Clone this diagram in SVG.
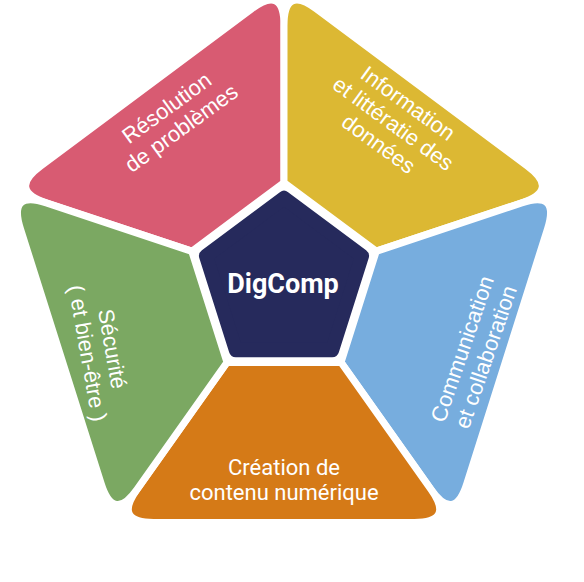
<svg xmlns="http://www.w3.org/2000/svg" width="584" height="582" viewBox="0 0 584 582">
<style>
.seg{stroke:#ffffff;stroke-width:7;stroke-linejoin:round}
.lbl{font-family:"Liberation Sans",Arial,sans-serif;font-size:22px;fill:#ffffff;text-anchor:middle}
.lbl2{font-family:Roboto,"Liberation Sans",sans-serif;font-size:22px;fill:#ffffff;text-anchor:middle}
.core{font-family:Roboto,"Liberation Sans",sans-serif;font-weight:bold;font-size:27px;fill:#ffffff;text-anchor:middle}
</style>
<defs>
<path id="seg" d="M0,-97 L0,-250 Q0,-290 -32.36,-266.49 L-243.45,-113.13 Q-275.81,-89.62 -237.77,-77.26 L-92.25,-29.97 Z"/>
</defs>
<rect width="584" height="582" fill="#ffffff"/>
<g id="resolution">
<use href="#seg" class="seg" fill="#D85B72" transform="translate(284 282) scale(1 1.025)"/>
<text class="lbl" transform="translate(174 118) rotate(-36)"><tspan x="0" y="-5">Résolution</tspan><tspan x="0" y="20">de problèmes</tspan></text>
</g>
<g id="information">
<use href="#seg" class="seg" fill="#DCB833" transform="translate(284 282) scale(1 1.025) rotate(72)"/>
<text class="lbl" transform="translate(393 124) rotate(36)"><tspan x="0" y="-18">Information</tspan><tspan x="0" y="7">et littératie des</tspan><tspan x="0" y="32">données</tspan></text>
</g>
<g id="communication">
<use href="#seg" class="seg" fill="#77ADDE" transform="translate(284 282) scale(1 1.025) rotate(144)"/>
<text class="lbl" transform="translate(474 353) rotate(-71)"><tspan x="0" y="-5">Communication</tspan><tspan x="0" y="20">et collaboration</tspan></text>
</g>
<g id="creation">
<use href="#seg" class="seg" fill="#D57A17" transform="translate(284 282) scale(1 1.025) rotate(216)"/>
<text class="lbl2"><tspan x="284" y="475">Création de</tspan><tspan x="284" y="500">contenu numérique</tspan></text>
</g>
<g id="securite">
<use href="#seg" class="seg" fill="#7BA862" transform="translate(284 282) scale(1 1.025) rotate(288)"/>
<text class="lbl" transform="translate(100 351) rotate(80)"><tspan x="0" y="-5">Sécurité</tspan><tspan x="0" y="20">( et bien-être )</tspan></text>
</g>
<g id="digcomp">
<polygon points="0,-82 77.99,-25.34 48.2,66.34 -48.2,66.34 -77.99,-25.34" fill="#262A5C" stroke="#262A5C" stroke-width="14" stroke-linejoin="round" transform="translate(284 282) scale(1 1.025)"/>
<text class="core" x="283" y="293">DigComp</text>
</g>
</svg>
